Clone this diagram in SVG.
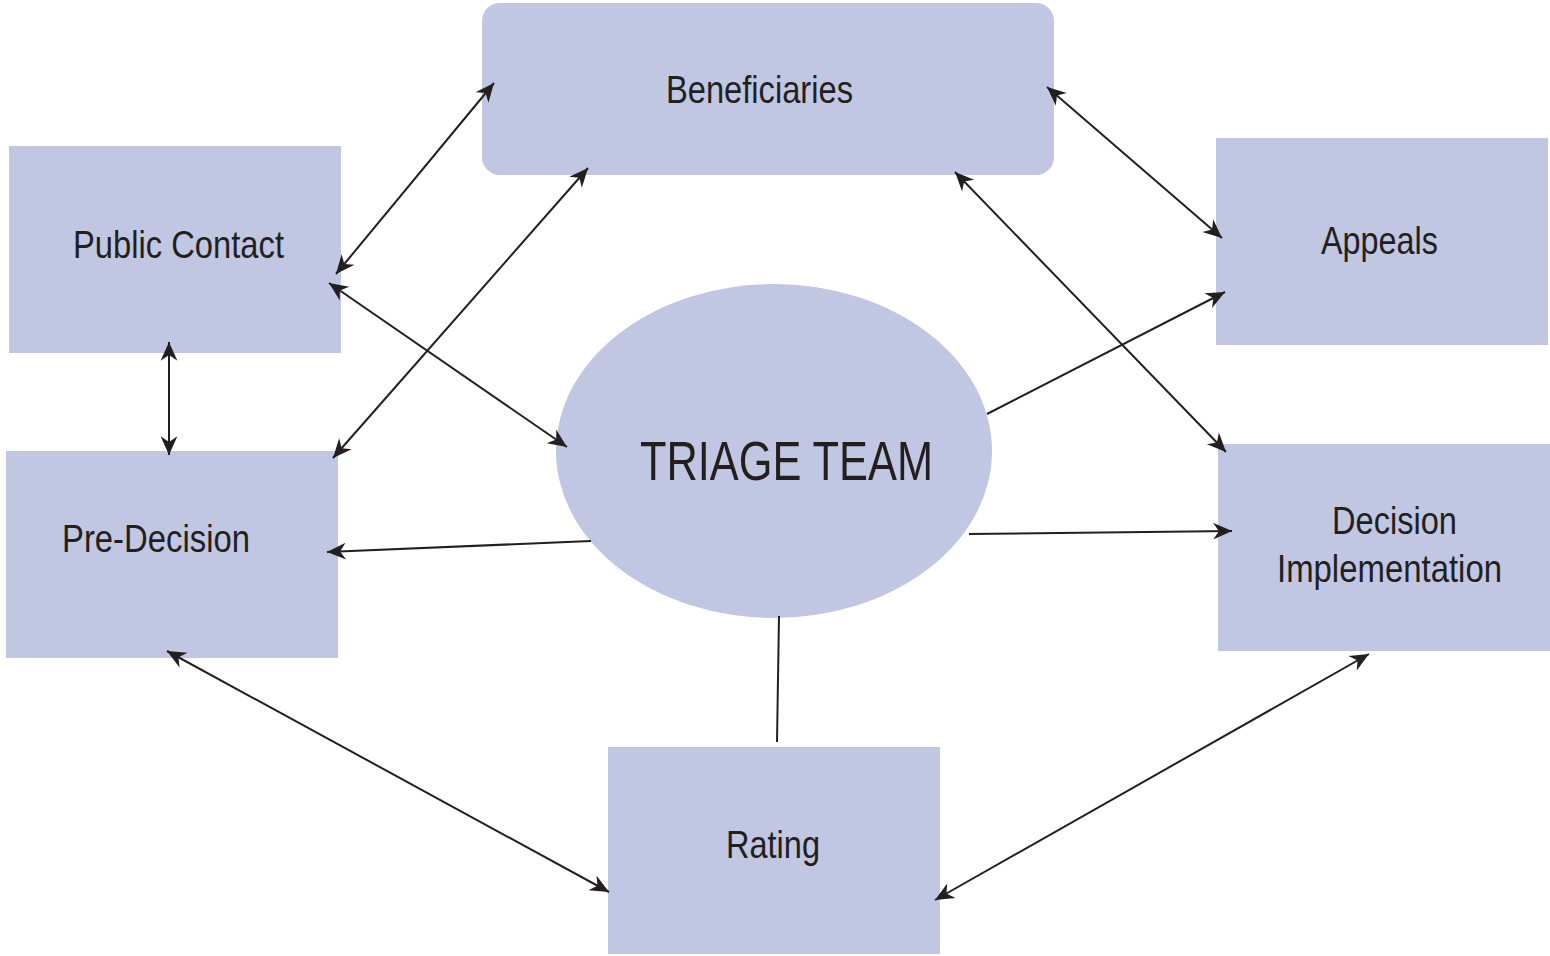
<svg xmlns="http://www.w3.org/2000/svg" width="1550" height="956" viewBox="0 0 1550 956">
<style>
.box{fill:#c1c7e2;stroke:none}
.lbl{font-family:"Liberation Sans",Arial,sans-serif;font-size:39px;fill:#231f20}
.big{font-family:"Liberation Sans",Arial,sans-serif;font-size:55px;fill:#231f20}
.con{stroke:#231f20;stroke-width:2;fill:none}
</style>
<defs>
<marker id="ah" markerUnits="userSpaceOnUse" markerWidth="22" markerHeight="22" viewBox="-19 -10 21 20" refX="0" refY="0" orient="auto-start-reverse">
<path d="M0,0 L-18,-8 L-12.5,0 L-18,8 Z" fill="#231f20"/>
</marker>
</defs>
<rect width="1550" height="956" fill="#ffffff"/>
<g id="beneficiaries">
<rect class="box" x="482" y="3" width="572" height="172" rx="18"/>
<text class="lbl" x="666" y="103" textLength="187" lengthAdjust="spacingAndGlyphs">Beneficiaries</text>
</g>
<g id="public-contact">
<rect class="box" x="9" y="146" width="332" height="207"/>
<text class="lbl" x="73" y="258" textLength="211" lengthAdjust="spacingAndGlyphs">Public Contact</text>
</g>
<g id="appeals">
<rect class="box" x="1216" y="138" width="332" height="207"/>
<text class="lbl" x="1321" y="254" textLength="117" lengthAdjust="spacingAndGlyphs">Appeals</text>
</g>
<g id="pre-decision">
<rect class="box" x="6" y="451" width="332" height="207"/>
<text class="lbl" x="62" y="552" textLength="188" lengthAdjust="spacingAndGlyphs">Pre-Decision</text>
</g>
<g id="decision-implementation">
<rect class="box" x="1218" y="444" width="332" height="207"/>
<text class="lbl" x="1332" y="534" textLength="125" lengthAdjust="spacingAndGlyphs">Decision</text>
<text class="lbl" x="1277" y="582" textLength="225" lengthAdjust="spacingAndGlyphs">Implementation</text>
</g>
<g id="rating">
<rect class="box" x="608" y="747" width="332" height="207"/>
<text class="lbl" x="726" y="858" textLength="94" lengthAdjust="spacingAndGlyphs">Rating</text>
</g>
<g id="triage-team">
<ellipse class="box" cx="774" cy="451" rx="218" ry="167"/>
<text class="big" x="640" y="480" textLength="293" lengthAdjust="spacingAndGlyphs">TRIAGE TEAM</text>
</g>
<g id="connectors">
<line class="con" x1="336" y1="274" x2="494" y2="83" marker-start="url(#ah)" marker-end="url(#ah)"/>
<line class="con" x1="333" y1="458" x2="588" y2="168" marker-start="url(#ah)" marker-end="url(#ah)"/>
<line class="con" x1="329" y1="283" x2="567" y2="447" marker-start="url(#ah)" marker-end="url(#ah)"/>
<line class="con" x1="169" y1="342" x2="169" y2="455" marker-start="url(#ah)" marker-end="url(#ah)"/>
<line class="con" x1="1047" y1="87" x2="1222" y2="238" marker-start="url(#ah)" marker-end="url(#ah)"/>
<line class="con" x1="955" y1="172" x2="1226" y2="452" marker-start="url(#ah)" marker-end="url(#ah)"/>
<line class="con" x1="987" y1="414" x2="1225" y2="292" marker-end="url(#ah)"/>
<line class="con" x1="969" y1="534" x2="1232" y2="531" marker-end="url(#ah)"/>
<line class="con" x1="591" y1="541" x2="327" y2="552" marker-end="url(#ah)"/>
<line class="con" x1="779" y1="616" x2="777" y2="742"/>
<line class="con" x1="167" y1="651" x2="609" y2="892" marker-start="url(#ah)" marker-end="url(#ah)"/>
<line class="con" x1="1369" y1="654" x2="935" y2="900" marker-start="url(#ah)" marker-end="url(#ah)"/>
</g>
</svg>
